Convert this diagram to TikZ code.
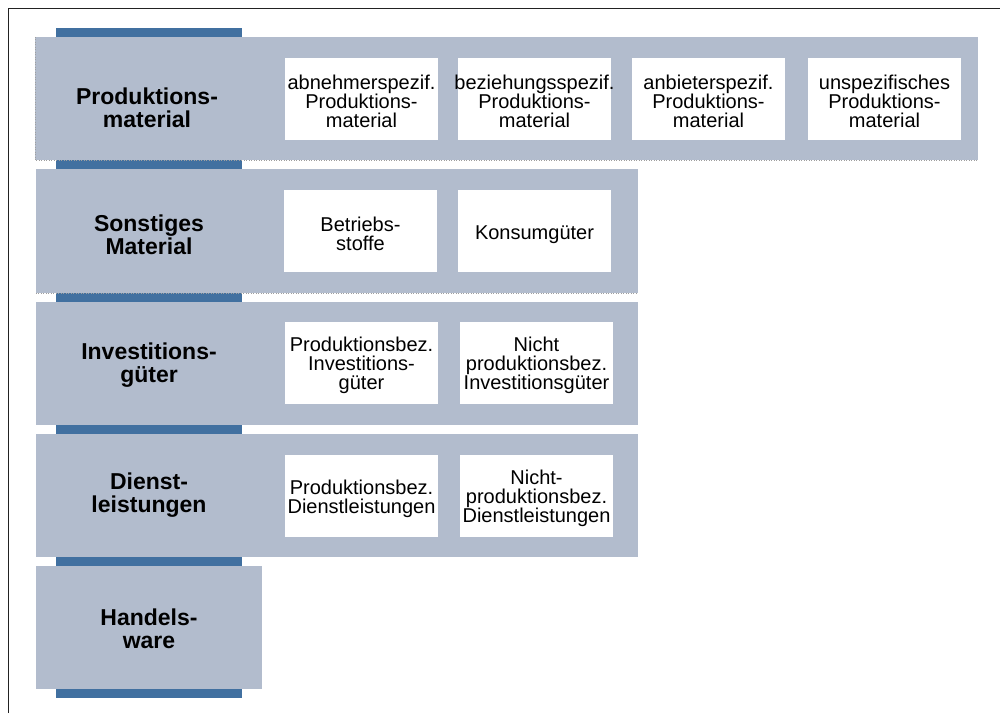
\documentclass[tikz,border=0pt]{standalone}
\usepackage{fontspec}
\setmainfont{Liberation Sans}
\definecolor{rowgray}{HTML}{B2BCCD}
\definecolor{barblue}{HTML}{4170A0}
\definecolor{framec}{HTML}{222222}
\begin{document}
\begin{tikzpicture}[x=1pt,y=-1pt,
  rowbox/.style={fill=rowgray, draw=none, inner sep=0pt, rectangle},
  barbox/.style={fill=barblue, draw=none, inner sep=0pt, minimum width=186pt, minimum height=9pt},
  cell/.style={fill=white, draw=none, inner sep=0pt, minimum width=153pt, minimum height=82pt},
  celltext/.style={inner sep=0pt, align=center, yshift=-2.5pt, font=\fontsize{20}{19}\selectfont},
  lbl/.style={inner sep=0pt, align=center, font=\fontsize{23}{23}\selectfont\bfseries},
  edgedot/.style={draw=gray!75, dotted, line width=0.5pt}
]
\useasboundingbox (0,0) rectangle (1000,713);
\fill[white] (0,0) rectangle (1000,713);
% frame
\coordinate (fa) at (8,713);
\coordinate (fb) at (8,8);
\coordinate (fc) at (1000,8);
\draw[framec, line width=1pt] (fa) -- (fb) -- (fc);

% bars
\node[barbox] (b0) at (149,32.5) {};
\node[barbox] (b1) at (149,164.5) {};
\node[barbox] (b2) at (149,297.5) {};
\node[barbox] (b3) at (149,429.5) {};
\node[barbox] (b4) at (149,561.5) {};
\node[barbox] (b5) at (149,693.5) {};

% rows
\node[rowbox, minimum width=943pt, minimum height=123pt] (r1) at (506.5,98.5) {};
\node[rowbox, minimum width=602pt, minimum height=124pt] (r2) at (337,231) {};
\node[rowbox, minimum width=602pt, minimum height=123pt] (r3) at (337,363.5) {};
\node[rowbox, minimum width=602pt, minimum height=123pt] (r4) at (337,495.5) {};
\node[rowbox, minimum width=226pt, minimum height=123pt] (r5) at (149,627.5) {};
\draw[edgedot] (r1.north west) -- (r1.south west) -- (r1.south east);
\draw[edgedot] (r2.south west) -- (r2.south east);

% labels
\node[lbl] (l1) at (147,107.5) {Produktions-\\material};
\node[lbl] (l2) at (149,235) {Sonstiges\\Material};
\node[lbl] (l3) at (149,365) {Investitions-\\güter};
\node[lbl] (l4) at (149,495) {Dienst-\\leistungen};
\node[lbl] (l5) at (149,629) {Handels-\\ware};

% cells row 1
\node[cell] (c11) at (361.5,99) {};
\node[cell] (c12) at (534.5,99) {};
\node[cell] (c13) at (708.5,99) {};
\node[cell] (c14) at (884.5,99) {};
% row 2
\node[cell] (c21) at (360.5,231) {};
\node[cell] (c22) at (534.5,231) {};
% row 3
\node[cell] (c31) at (361.5,363) {};
\node[cell] (c32) at (536.5,363) {};
% row 4
\node[cell] (c41) at (361.5,496) {};
\node[cell] (c42) at (536.5,496) {};

% cell texts
\node[celltext] (t11) at (c11) {abnehmerspezif.\\Produktions-\\material};
\node[celltext] (t12) at (c12) {beziehungsspezif.\\Produktions-\\material};
\node[celltext] (t13) at (c13) {anbieterspezif.\\Produktions-\\material};
\node[celltext] (t14) at (c14) {unspezifisches\\Produktions-\\material};
\node[celltext] (t21) at (c21) {Betriebs-\\stoffe};
\node[celltext, yshift=-1.5pt] (t22) at (c22) {Konsumgüter};
\node[celltext] (t31) at (c31) {Produktionsbez.\\Investitions-\\güter};
\node[celltext] (t32) at (c32) {Nicht\\produktionsbez.\\Investitionsgüter};
\node[celltext] (t41) at (c41) {Produktionsbez.\\Dienstleistungen};
\node[celltext] (t42) at (c42) {Nicht-\\produktionsbez.\\Dienstleistungen};
\end{tikzpicture}
\end{document}
